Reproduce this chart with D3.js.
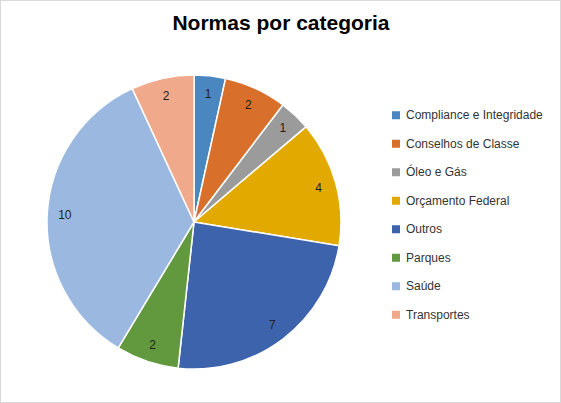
<!DOCTYPE html>
<html>
<head>
<meta charset="utf-8">
<script src="https://cdn.jsdelivr.net/npm/d3@7"></script>
<style>
  body { margin: 0; background: #fff; }
  text { font-family: "Liberation Sans", Arial, sans-serif; }
</style>
</head>
<body>
<svg id="chart" width="561" height="403"></svg>
<script>
const categories = ["Compliance e Integridade", "Conselhos de Classe", "Óleo e Gás", "Orçamento Federal", "Outros", "Parques", "Saúde", "Transportes"];
const values = [1, 2, 1, 4, 7, 2, 10, 2];
const colors = ["#4a86c0", "#d86f2a", "#9b9b9b", "#e2aa00", "#3e63ad", "#62993e", "#9bb9e0", "#f1a98b"];

const svg = d3.select("#chart");
const cx = 194, cy = 222, r = 147;

svg.append("rect").attr("x", 0.5).attr("y", 0.5).attr("width", 560).attr("height", 402)
  .attr("fill", "#fff").attr("stroke", "#d9d9d9");

svg.append("text").attr("x", 281).attr("y", 30).attr("text-anchor", "middle")
  .attr("font-size", 21).attr("font-weight", "bold").text("Normas por categoria");

const data = categories.map((c, i) => ({ name: c, value: values[i], color: colors[i] }));
const pie = d3.pie().value(d => d.value).sort(null);
const arc = d3.arc().innerRadius(0).outerRadius(r);
const labelArc = d3.arc().innerRadius(r * 0.88).outerRadius(r * 0.88);

const g = svg.append("g").attr("transform", `translate(${cx},${cy})`);
const arcs = pie(data);
g.selectAll("path").data(arcs).enter().append("path")
  .attr("d", arc).attr("fill", d => d.data.color)
  .attr("stroke", "#fff").attr("stroke-width", 1.5);

g.selectAll("text.lbl").data(arcs).enter().append("text")
  .attr("class", "lbl")
  .attr("transform", d => `translate(${labelArc.centroid(d)})`)
  .attr("text-anchor", "middle").attr("dy", "0.35em")
  .attr("font-size", 12).attr("fill", "#222")
  .text(d => d.data.value);

const y = d3.scaleBand().domain(categories).range([101, 329]);
const legend = svg.append("g").selectAll("g").data(data).enter().append("g")
  .attr("transform", d => `translate(392,${y(d.name) + y.bandwidth() / 2})`);
legend.append("rect").attr("x", 0).attr("y", -4).attr("width", 8).attr("height", 8)
  .attr("fill", d => d.color);
legend.append("text").attr("x", 14).attr("dy", "0.35em").attr("font-size", 12)
  .attr("fill", "#333").text(d => d.name);
</script>
</body>
</html>
